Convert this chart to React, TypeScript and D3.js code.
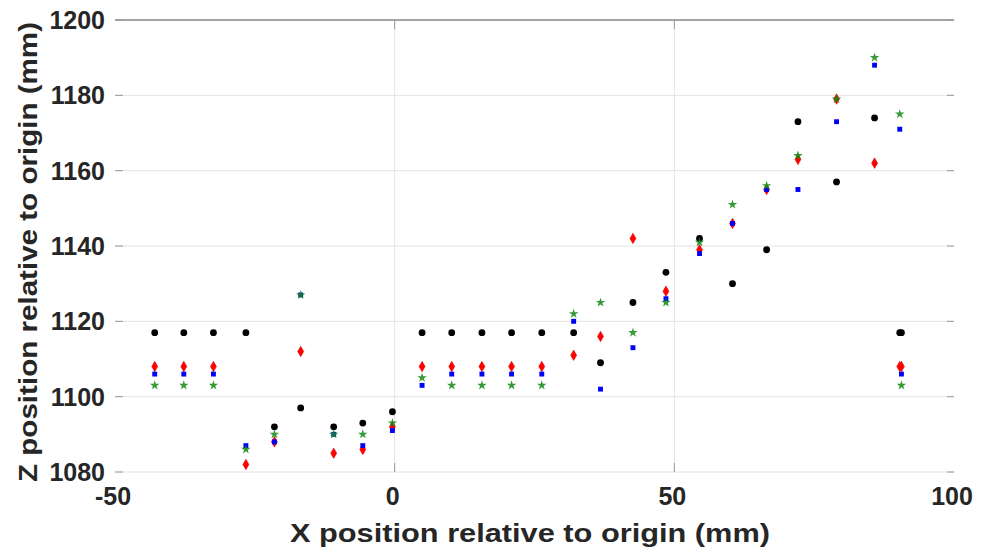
import React from "react";
import * as d3 from "d3";

const xPos = [-42.9, -37.7, -32.4, -26.6, -21.5, -16.8, -10.9, -5.7, -0.4, 4.9, 10.2, 15.6, 20.9, 26.3, 32.0, 36.8, 42.6, 48.5, 54.5, 60.4, 66.5, 72.1, 79.0, 85.8, 90.3, 90.6];
const blackZ = [1117, 1117, 1117, 1117, 1092, 1097, 1092, 1093, 1096, 1117, 1117, 1117, 1117, 1117, 1117, 1109, 1125, 1133, 1142, 1130, 1139, 1173, 1157, 1174, 1117, 1117];
const redZ = [1108, 1108, 1108, 1082, 1088, 1112, 1085, 1086, 1092, 1108, 1108, 1108, 1108, 1108, 1111, 1116, 1142, 1128, 1139, 1146, 1155, 1163, 1179, 1162, 1108, 1108];
const blueZ = [1106, 1106, 1106, 1087, 1088, 1127, 1090, 1087, 1091, 1103, 1106, 1106, 1106, 1106, 1120, 1102, 1113, 1126, 1138, 1146, 1155, 1155, 1173, 1188, 1171, 1106];
const greenZ = [1103, 1103, 1103, 1086, 1090, 1127, 1090, 1090, 1093, 1105, 1103, 1103, 1103, 1103, 1122, 1125, 1117, 1125, 1141, 1151, 1156, 1164, 1179, 1190, 1175, 1103];

const xTicks = [-50, 0, 50, 100];
const yTicks = [1080, 1100, 1120, 1140, 1160, 1180, 1200];
const xTitle = "X position relative to origin (mm)";
const yTitle = "Z position relative to origin (mm)";

const W = 986, H = 549;
const L = 115, R = 954, T = 20, B = 472;

export default function App() {
  const x = d3.scaleLinear().domain([-50, 100]).range([L, R]);
  const y = d3.scaleLinear().domain([1080, 1200]).range([B, T]);
  const star = d3.symbol().type(d3.symbolStar).size(28)() as string;
  const square = d3.symbol().type(d3.symbolSquare).size(24)() as string;
  const diamond = d3.symbol().type(d3.symbolDiamond).size(32)() as string;
  const font = "'Liberation Sans', Arial, sans-serif";
  return (
    <svg width={W} height={H} style={{ position: "absolute", left: 0, top: 0, background: "#fff" }}>
      <rect x={0} y={0} width={W} height={H} fill="#fff" />
      {yTicks.map((t) => (
        <line key={"gy" + t} x1={L} x2={R} y1={y(t)} y2={y(t)} stroke="#e3e3e3" strokeWidth={1} />
      ))}
      {xTicks.filter((t) => t > -50 && t < 100).map((t) => (
        <line key={"gx" + t} x1={x(t)} x2={x(t)} y1={T} y2={B} stroke="#e3e3e3" strokeWidth={1} />
      ))}
      <line x1={L} x2={R} y1={T} y2={T} stroke="#8a8a8a" strokeWidth={1.5} />
      {yTicks.map((t) => (
        <g key={"ty" + t}>
          <line x1={L} x2={L + 8} y1={y(t)} y2={y(t)} stroke="#9a9a9a" strokeWidth={1} />
          <line x1={R - 7} x2={R} y1={y(t)} y2={y(t)} stroke="#9a9a9a" strokeWidth={1} />
          <text x={105} y={y(t)} dy="0.36em" textAnchor="end" fontFamily={font} fontWeight="bold" fontSize={25} fill="#262626">{t}</text>
        </g>
      ))}
      {xTicks.map((t) => (
        <g key={"tx" + t}>
          {t > -50 && t < 100 && (
            <>
              <line x1={x(t)} x2={x(t)} y1={T} y2={T + 9} stroke="#9a9a9a" strokeWidth={1} />
              <line x1={x(t)} x2={x(t)} y1={B} y2={B - 9} stroke="#9a9a9a" strokeWidth={1} />
            </>
          )}
          <text x={x(t) - 2} y={505} textAnchor="middle" fontFamily={font} fontWeight="bold" fontSize={25} fill="#262626">{t}</text>
        </g>
      ))}
      <text x={530} y={542} textAnchor="middle" fontFamily={font} fontWeight="bold" fontSize={25} fill="#262626" textLength={480} lengthAdjust="spacingAndGlyphs">{xTitle}</text>
      <text transform={`translate(37,252) rotate(-90)`} textAnchor="middle" fontFamily={font} fontWeight="bold" fontSize={25} fill="#262626" textLength={460} lengthAdjust="spacingAndGlyphs">{yTitle}</text>
      {xPos.map((v, i) => (
        <circle key={"k" + i} cx={x(v)} cy={y(blackZ[i])} r={3.4} fill="#000" />
      ))}
      {xPos.map((v, i) => (
        <path key={"r" + i} d={diamond} transform={`translate(${x(v)},${y(redZ[i])})`} fill="#ff0000" stroke="#e00000" strokeWidth={0.5} />
      ))}
      {xPos.map((v, i) => (
        <path key={"b" + i} d={square} transform={`translate(${x(v)},${y(blueZ[i])})`} fill="#0000ff" />
      ))}
      {xPos.map((v, i) => (
        <path key={"g" + i} d={star} transform={`translate(${x(v)},${y(greenZ[i])})`} fill="#138a13" fillOpacity={0.85} />
      ))}
    </svg>
  );
}
